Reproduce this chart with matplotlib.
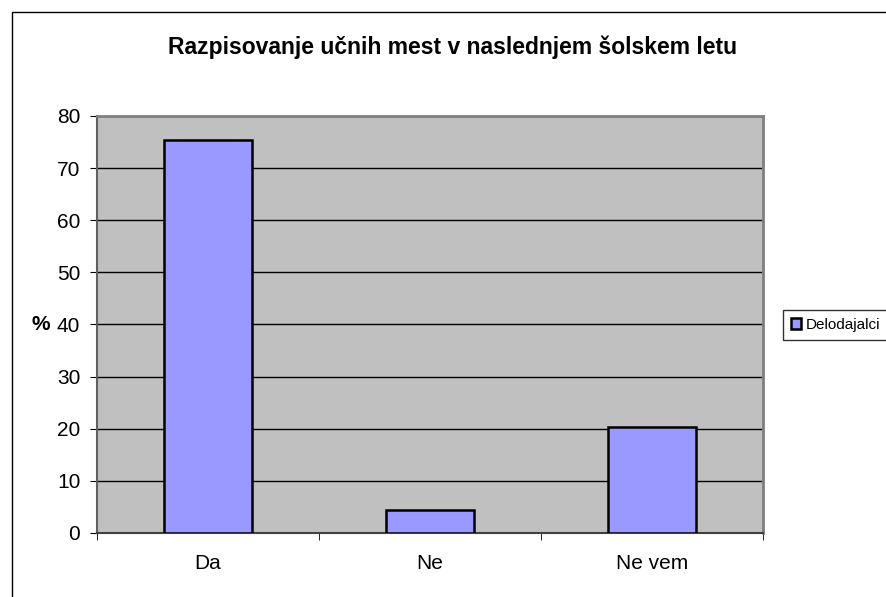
import numpy as np
from matplotlib import pyplot as plt
from matplotlib.patches import Rectangle

plt.rcParams['font.family'] = ['Liberation Sans', 'DejaVu Sans']

categories = ["Da", "Ne", "Ne vem"]
values = [75.4, 4.4, 20.3]
series_name = "Delodajalci"
title = "Razpisovanje učnih mest v naslednjem šolskem letu"

fig = plt.figure(figsize=(8.86, 5.97), dpi=100)
# outer chart border
fig.patches.append(Rectangle((12/886, -0.1), 1.2, 1 - 12/597 + 0.1, transform=fig.transFigure,
                             fill=False, edgecolor="black", linewidth=1))

ax = fig.add_axes([97/886, 1-533/597, (763-97)/886, (533-116)/597])
ax.set_facecolor("#C0C0C0")
x = np.arange(len(categories))
ax.bar(x, values, width=0.4, color="#9999FF", edgecolor="black", linewidth=1.8,
       label=series_name, zorder=3)

ax.set_xlim(-0.5, 2.5)
ax.set_ylim(0, 80)
ax.set_yticks(np.arange(0, 81, 10))
ax.yaxis.grid(True, color="black", linewidth=1, zorder=1)
ax.set_axisbelow(True)

ax.set_xticks(x)
ax.set_xticklabels(categories, fontsize=15)
ax.tick_params(axis='x', which='major', length=0, pad=15)
ax.set_xticks([-0.5, 0.5, 1.5, 2.5], minor=True)
ax.tick_params(axis='x', which='minor', length=5, color="black")
ax.tick_params(axis='y', length=5, labelsize=15, pad=7)

for s in ["top", "right"]:
    ax.spines[s].set_color("#808080")
    ax.spines[s].set_linewidth(2)
ax.spines["left"].set_color("#606060")
ax.spines["left"].set_linewidth(1.5)
ax.spines["bottom"].set_color("#404040")
ax.spines["bottom"].set_linewidth(1.5)

ax.set_ylabel("%", fontsize=15, fontweight="bold", rotation=0, labelpad=12, va="center")

fig.text(453/886, 1-47/597, title, ha="center", va="center", fontsize=16.5, fontweight="bold")

leg = ax.legend(loc="center left", bbox_to_anchor=(783/886, 1-325/597), bbox_transform=fig.transFigure,
                fontsize=11, frameon=True, fancybox=False, edgecolor="black", handlelength=0.7,
                handleheight=0.7, handletextpad=0.3, borderpad=0.5, borderaxespad=0)
leg.get_frame().set_linewidth(1)

plt.savefig("out.png", dpi=100)
